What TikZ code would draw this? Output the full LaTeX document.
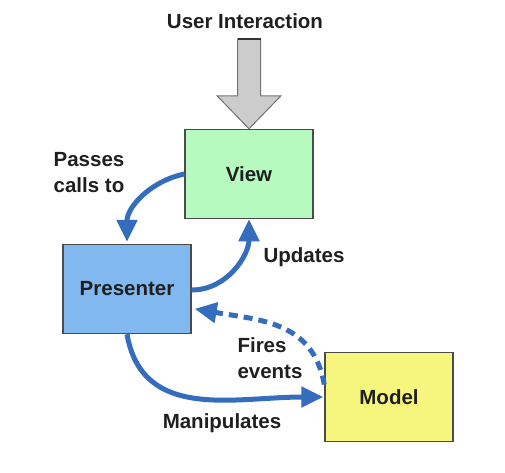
\documentclass[tikz,border=0pt]{standalone}
\usepackage{fontspec}
\setmainfont{Liberation Sans}
\usetikzlibrary{arrows.meta}
\definecolor{viewc}{RGB}{182,250,192}
\definecolor{presc}{RGB}{130,184,240}
\definecolor{modelc}{RGB}{246,246,126}
\definecolor{arrc}{RGB}{52,108,190}
\definecolor{boxline}{RGB}{75,75,75}
\begin{document}
\begin{tikzpicture}[x=1pt,y=-1pt,
  box/.style={draw=boxline,line width=1.5pt,minimum width=128pt,minimum height=89pt,inner sep=0pt,font=\fontsize{20.5}{24}\selectfont\bfseries,text=black!88},
  lbl/.style={font=\fontsize{20.5}{26}\selectfont\bfseries,text=black!88,inner sep=0pt},
  flow/.style={draw=arrc,line width=5pt,-{Triangle[length=22pt,width=20pt]}},
  dflow/.style={flow,dash pattern=on 9pt off 6pt}]
\useasboundingbox (0,0) rectangle (505,472);
\node[box,fill=viewc] (view) at (249,174) {View};
\node[box,fill=presc] (pres) at (127,289) {Presenter};
\node[box,fill=modelc] (model) at (389,397) {Model};
\node[lbl] (ui) at (245,21) {User Interaction};
\node[lbl,align=left] (pass) at (89,173) {Passes\\calls to};
\node[lbl] (upd) at (304,257) {Updates};
\node[lbl,align=left] (fire) at (270,358) {Fires\\events};
\node[lbl] (manip) at (222,423) {Manipulates};
% user interaction arrow
\coordinate (uitip) at (view.north);
\coordinate (uitop) at ([yshift=90pt]view.north);
\draw[draw=black!55,line width=1pt,fill=black!20]
  ([xshift=-11.5pt]uitop) -- ++(0,57) -- ++(-20.5,0) -- (uitip) -- ++(32,-33) -- ++(-20.5,0) -- ++(0,-57) -- cycle;
\draw[line width=2pt,black!80] ([xshift=-11.5pt]uitop) -- ([xshift=11.5pt]uitop);
% connectors
\draw[flow] (view.west) to[out=192,in=90,looseness=1] ([yshift=2pt]pres.north);
\draw[flow] ([yshift=-1pt]pres.east) to[out=0,in=-90,looseness=1] (view.south);
\draw[dflow] (model.169) to[out=100,in=-10,looseness=1.1] ([xshift=3pt]pres.-17);
\draw[flow] (pres.south) to[out=-80,in=180,looseness=1.1] ([xshift=-1pt]model.west);
\end{tikzpicture}
\end{document}
